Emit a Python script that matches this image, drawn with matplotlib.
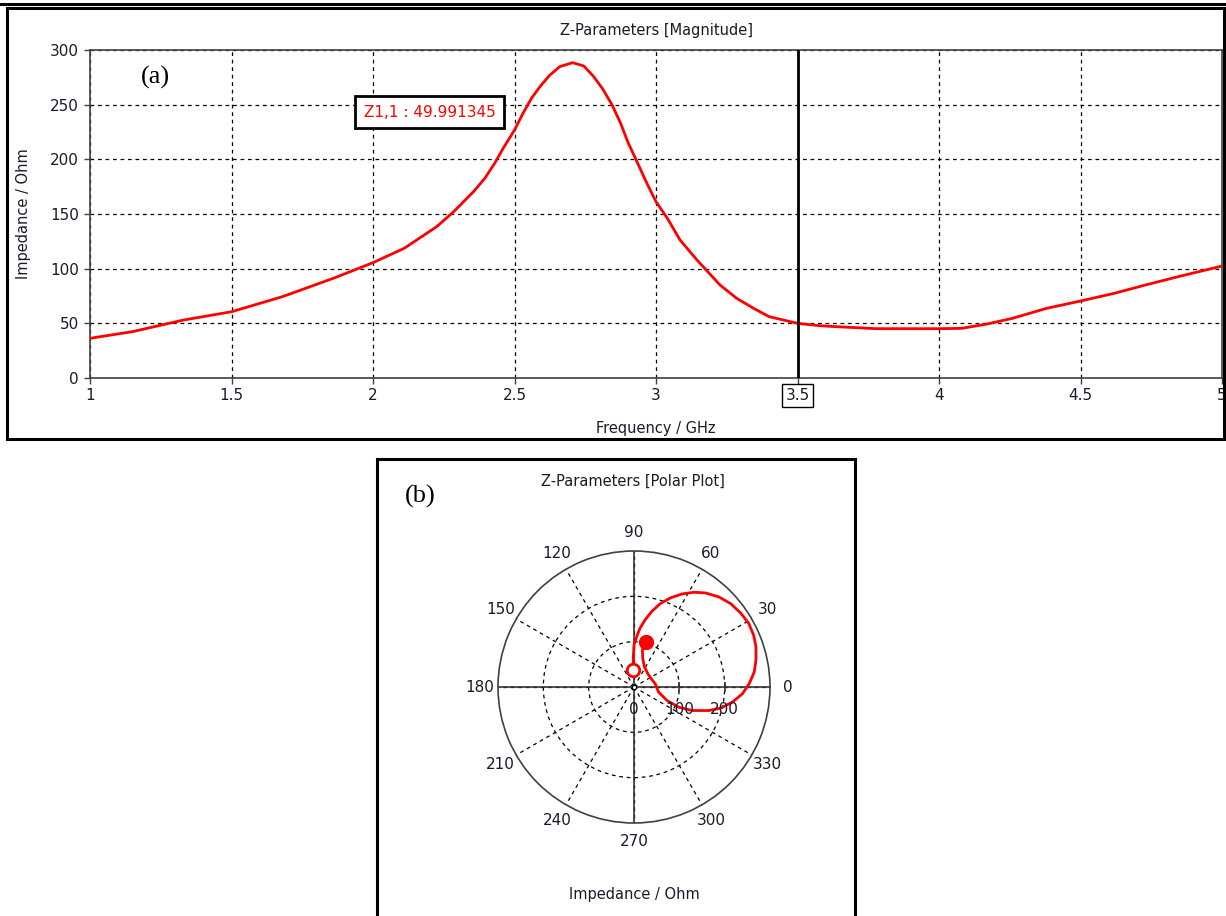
import numpy as np
import matplotlib
matplotlib.use("Agg")
import matplotlib.pyplot as plt
from matplotlib.patches import Rectangle
from matplotlib.lines import Line2D

# |Z11| versus frequency
freq_ghz = [1.0, 1.15, 1.33, 1.5, 1.68, 1.86, 2.0, 2.11, 2.225, 2.285, 2.355,
            2.395, 2.43, 2.46, 2.5, 2.53, 2.56, 2.59, 2.625, 2.66, 2.705, 2.745,
            2.78, 2.81, 2.845, 2.875, 2.9, 2.93, 2.965, 3.0, 3.04, 3.085, 3.145,
            3.226, 3.285, 3.345, 3.4, 3.5, 3.58, 3.64, 3.78, 4.0, 4.08, 4.17,
            4.26, 4.38, 4.5, 4.62, 4.73, 4.85, 5.0]
z_mag = [36.3, 42.4, 53.0, 60.6, 74.4, 91.2, 105.5, 118.6, 138.4, 152.1, 170.4,
         182.6, 196.4, 210.1, 226.8, 242.1, 255.8, 266.5, 277.1, 284.8, 288.4,
         285.4, 275.6, 265.0, 249.7, 233.0, 216.1, 199.4, 179.6, 161.3, 146.1,
         126.2, 107.9, 85.1, 72.9, 63.7, 56.1, 50.0, 47.8, 46.9, 45.1, 45.1,
         45.4, 49.4, 54.6, 63.7, 70.4, 77.5, 85.1, 93.0, 102.4]

# Z11 trace in the complex plane, Ohm
z_re = [-1.5, -1.5, 0.0, 5.9, 13.3, 24.5, 39.3, 57.8, 80.0, 106.0, 131.9, 157.8,
        187.5, 213.4, 235.6, 252.7, 263.8, 269.0, 269.0, 265.3, 254.2, 239.3,
        217.1, 191.2, 165.2, 128.2, 98.6, 72.6, 54.1, 46.7, 37.8, 30.4, 23.0,
        19.3, 18.5, 25.9]
z_im = [38.5, 66.7, 92.6, 111.2, 129.7, 148.2, 166.7, 183.8, 196.4, 205.3, 209.0,
        207.5, 198.6, 183.8, 163.0, 140.8, 114.9, 88.9, 59.3, 33.3, 7.4, -14.8,
        -33.3, -46.7, -51.9, -51.9, -44.5, -29.6, -11.1, 7.4, 18.5, 29.6, 44.5,
        63.0, 81.5, 100.0]

x_ticks = [1, 1.5, 2, 2.5, 3, 3.5, 4, 4.5, 5]
x_labels = ["1", "1.5", "2", "2.5", "3", "3.5", "4", "4.5", "5"]
y_ticks = [0, 50, 100, 150, 200, 250, 300]
marker_freq = 3.5
marker_text = "Z1,1 : 49.991345"
theta_ticks = list(range(0, 360, 30))
r_ticks = [0, 100, 200]

W, H = 1226, 916
fig = plt.figure(figsize=(W / 100, H / 100), dpi=100)
plt.rcParams['font.family'] = ['DejaVu Sans']

def fx(px):
    return px / W

def fy(py):
    return 1 - py / H

txt_col = "#1a1a2a"
grid_dash = (0, (3, 3))

# frames
fig.add_artist(Line2D([0, 1], [fy(4), fy(4)], color="black", lw=2.2))
fig.add_artist(Rectangle((fx(7), fy(439)), fx(1224 - 7), (439 - 8) / H,
                         fill=False, ec="black", lw=2.2, transform=fig.transFigure))
fig.add_artist(Rectangle((fx(377), -0.02), fx(855 - 377), (916 - 459) / H + 0.02,
                         fill=False, ec="black", lw=2.2, transform=fig.transFigure))

# ---- panel (a) ----
ax = fig.add_axes([fx(90), fy(378), fx(1222 - 90), (378 - 50) / H])
ax.plot(freq_ghz, z_mag, color="red", lw=2, zorder=3)
ax.axvline(marker_freq, color="black", lw=2, zorder=4)
ax.set_xlim(1, 5)
ax.set_ylim(0, 300)
ax.set_xticks(x_ticks)
ax.set_xticklabels(x_labels)
ax.set_yticks(y_ticks)
ax.grid(True, color="black", linestyle=grid_dash, lw=0.9)
for s in ax.spines.values():
    s.set_color("#404040")
    s.set_linewidth(1.2)
    s.set_zorder(2.5)
ax.tick_params(direction="out", length=4, width=1, color="#404040",
               labelsize=11, labelcolor=txt_col)
ax.tick_params(axis="x", pad=3)
ax.tick_params(axis="y", pad=4)
for lab in ax.get_xticklabels():
    if lab.get_text() == "3.5":
        lab.set_bbox(dict(boxstyle="square,pad=0.25", fc="white", ec="black", lw=1))
ax.text(2.2, 243, marker_text, color="red", fontsize=11, ha="center", va="center",
        bbox=dict(boxstyle="square,pad=0.55", fc="white", ec="black", lw=2), zorder=5)
ax.text((155 - 90) / 1132, (378 - 77) / 328, "(a)", transform=ax.transAxes,
        family="Liberation Serif", fontsize=19, ha="center", va="center")

fig.text(fx(656), fy(30), "Z-Parameters [Magnitude]", ha="center", va="center",
         fontsize=10.5, color=txt_col)
fig.text(fx(656), fy(428), "Frequency / GHz", ha="center", va="center",
         fontsize=10.5, color=txt_col)
fig.text(fx(24), fy(214), "Impedance / Ohm", ha="center", va="center",
         rotation=90, fontsize=10.5, color=txt_col)

# ---- panel (b) ----
R = 136
pax = fig.add_axes([fx(634 - R), fy(687 + R), fx(2 * R), 2 * R / H],
                   projection="polar")
theta = np.arctan2(z_im, z_re)
rad = np.hypot(z_re, z_im)
pax.set_ylim(0, 300)
pax.set_rgrids([100, 200], labels=["", ""])
pax.set_thetagrids(theta_ticks, labels=[str(t) for t in theta_ticks],
                   fontsize=11, color=txt_col)
pax.grid(True, color="black", linestyle=grid_dash, lw=0.9)
pax.spines["polar"].set_color("#404040")
pax.spines["polar"].set_linewidth(1.2)
pax.tick_params(axis="x", pad=2.5)
for ang in [0, 90, 180, 270]:
    pax.plot([np.deg2rad(ang)] * 2, [0, 300], color="#333333", lw=1.2, zorder=2)
pax.plot([0, 0], [100, 200], ls="none", marker="|", ms=7, mew=1.2,
         color="#333333", zorder=2)
pax.plot([0], [0], ls="none", marker="o", ms=3, mfc="white", mec="black",
         mew=0.8, zorder=2)
pax.plot(theta, rad, color="red", lw=2, zorder=3)
pax.plot(theta[0], rad[0], ls="none", marker="o", ms=9, mfc="white", mec="red",
         mew=2, zorder=4)
pax.plot(theta[-1], rad[-1], ls="none", marker="o", ms=10, color="red", zorder=4)
for r in r_ticks:
    pax.annotate(str(r), xy=(0, r), xytext=(0, -16), textcoords="offset points",
                 ha="center", va="center", fontsize=11, color=txt_col,
                 annotation_clip=False)

fig.text(fx(633), fy(481), "Z-Parameters [Polar Plot]", ha="center", va="center",
         fontsize=10.5, color=txt_col)
fig.text(fx(420), fy(496), "(b)", ha="center", va="center",
         family="Liberation Serif", fontsize=19)
fig.text(fx(634), fy(894), "Impedance / Ohm", ha="center", va="center",
         fontsize=10.5, color=txt_col)

fig.savefig("out.png", dpi=100)
